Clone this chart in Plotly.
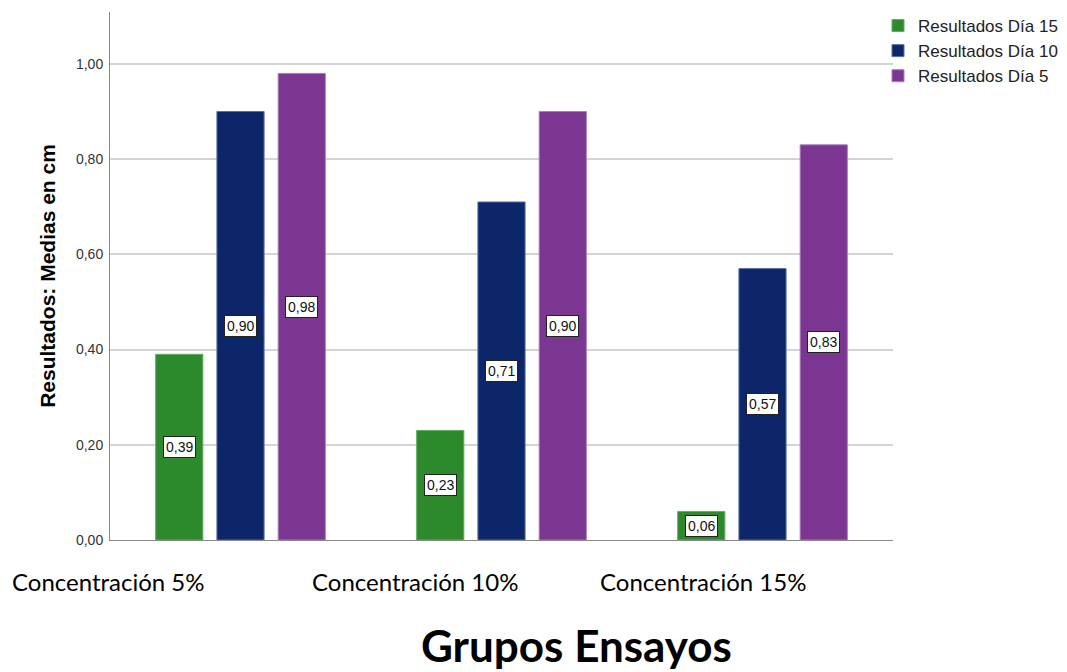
import plotly.graph_objects as go

categories = ["Concentración 5%", "Concentración 10%", "Concentración 15%"]
series_names = ["Resultados Día 15", "Resultados Día 10", "Resultados Día 5"]
dia15 = [0.39, 0.23, 0.06]
dia10 = [0.90, 0.71, 0.57]
dia5 = [0.98, 0.90, 0.83]
colors = ["#2c8a2c", "#0c2669", "#7a3690"]
edge_colors = ["#5fae5f", "#5a6fa8", "#a97cbd"]
yticks = [0, 0.2, 0.4, 0.6, 0.8, 1.0]

series = [dia15, dia10, dia5]
bargap = 0.296
bargroupgap = 0.23

SANS = "Liberation Sans, Arial"

fig = go.Figure()
for name, vals, c, ec in zip(series_names, series, colors, edge_colors):
    fig.add_trace(go.Bar(
        x=list(range(len(categories))), y=vals, name=name,
        marker=dict(color=c, line=dict(color=ec, width=1)),
        hoverinfo="skip",
    ))

slot = (1 - bargap) / len(series)
annotations = []
for si, vals in enumerate(series):
    off = (si - (len(series) - 1) / 2) * slot
    for ci, v in enumerate(vals):
        annotations.append(dict(
            x=ci + off, y=v / 2, xref="x", yref="y",
            text=f"{v:.2f}".replace(".", ","), showarrow=False,
            font=dict(family=SANS, size=14, color="#111"),
            bgcolor="white", bordercolor="#222", borderwidth=1, borderpad=2,
        ))

W_PLOT = 783
# category labels placed as in the reference (shifted left of their groups)
cat_x_left = [10, 310, 598]
for lbl, xl in zip(categories, cat_x_left):
    annotations.append(dict(
        x=(xl - 110) / W_PLOT, y=-0.0795, xref="paper", yref="paper",
        xanchor="left", yanchor="middle", text=lbl, showarrow=False,
        font=dict(family="Lato", size=24, color="black"),
    ))

annotations.append(dict(
    x=(576 - 110) / W_PLOT, y=-0.198, xref="paper", yref="paper",
    xanchor="center", yanchor="middle", text="<b>Grupos Ensayos</b>", showarrow=False,
    font=dict(family="Lato", size=44, color="black"),
))

fig.update_layout(
    width=1067, height=672,
    margin=dict(l=110, r=1067 - 110 - W_PLOT, t=12, b=132, autoexpand=False),
    paper_bgcolor="white", plot_bgcolor="white",
    separators=",.",
    barmode="group", bargap=bargap, bargroupgap=bargroupgap,
    showlegend=True,
    legend=dict(x=(878 - 110) / W_PLOT, y=1.0076, xanchor="left", yanchor="top",
                font=dict(family=SANS, size=17, color="#222"),
                itemwidth=30, tracegroupgap=0, bgcolor="rgba(0,0,0,0)"),
    xaxis=dict(range=[-0.5, 2.5], showticklabels=False, showgrid=False,
               zeroline=False, showline=True, linecolor="#888", linewidth=1,
               ticks=""),
    yaxis=dict(range=[0, 1.109], tickvals=yticks, tickformat=".2f",
               showgrid=True, gridcolor="#d4d4d4", gridwidth=2,
               zeroline=False, showline=True, linecolor="#888", linewidth=1,
               ticks="", ticklabelstandoff=3,
               tickfont=dict(family=SANS, size=14, color="#333"),
               title=dict(text="<b>Resultados: Medias en cm</b>", standoff=14,
                          font=dict(family=SANS, size=21, color="black"))),
    annotations=annotations,
)

fig.write_html("out.html")
